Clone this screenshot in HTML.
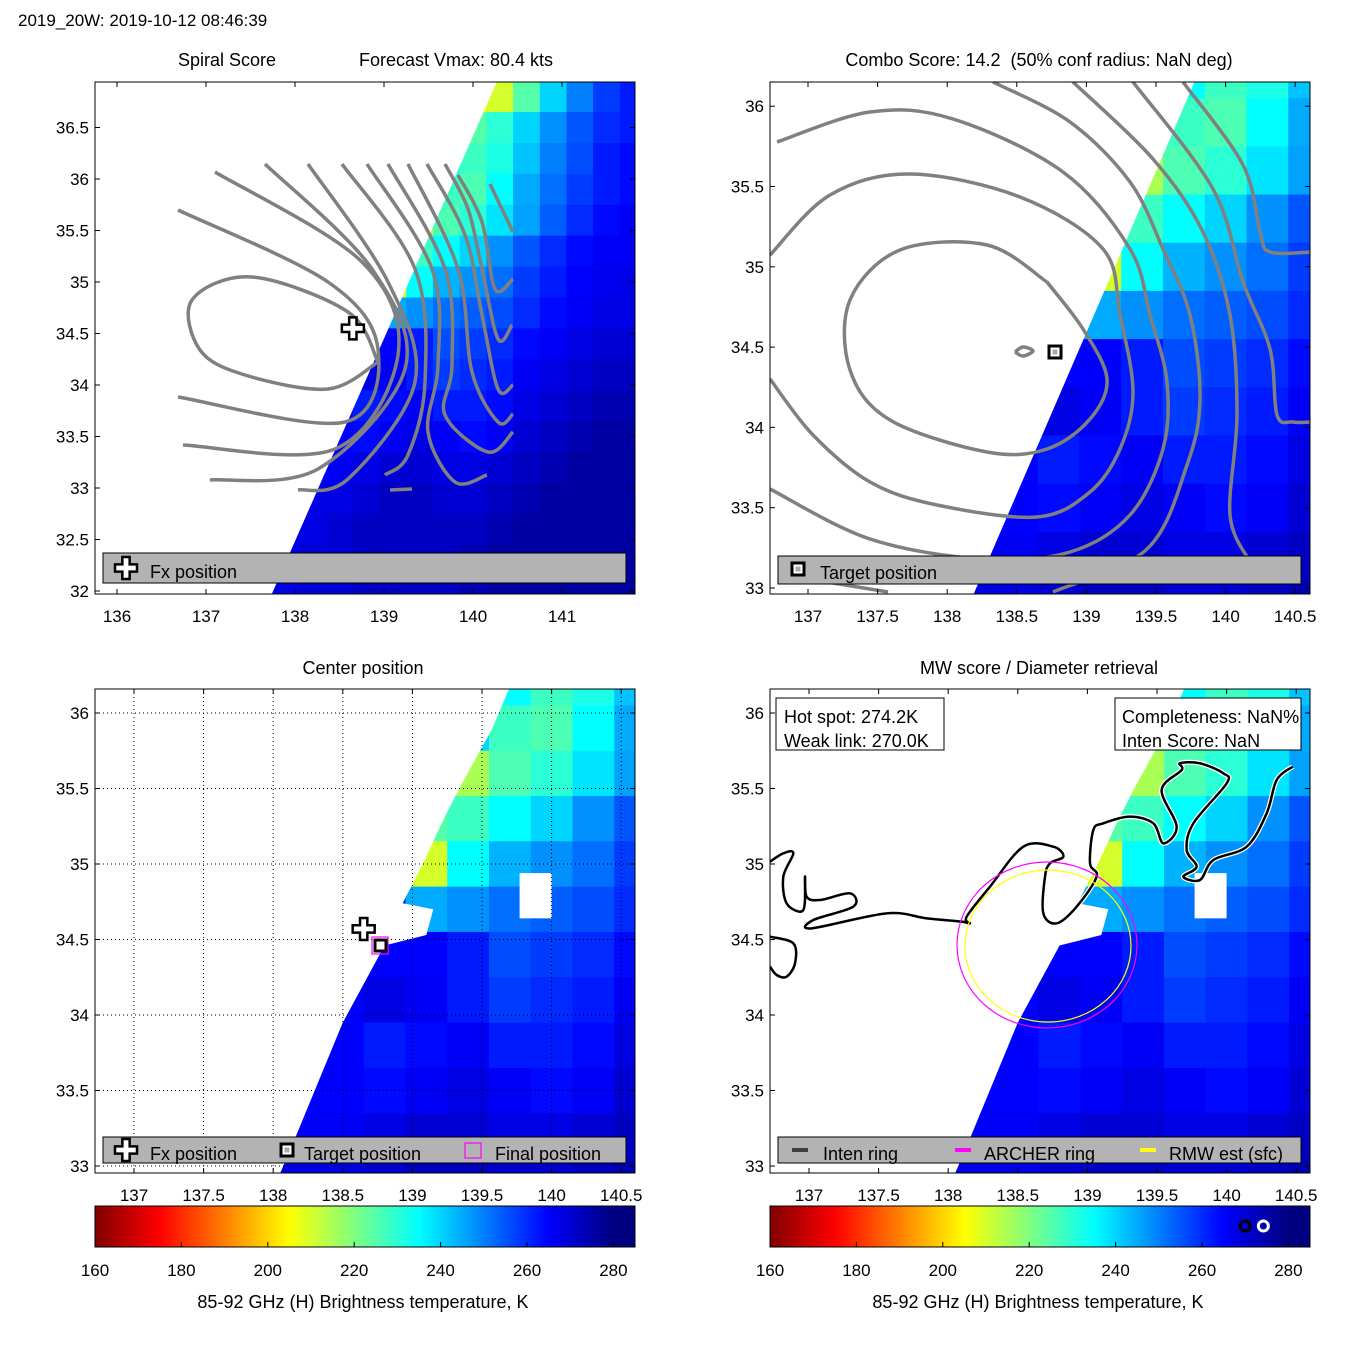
<!DOCTYPE html>
<html><head><meta charset="utf-8"><style>
html,body{margin:0;padding:0;background:#fff;}
svg{display:block;font-family:"Liberation Sans",sans-serif;}
text{fill:#000;}
</style></head><body>
<svg id="fig" width="1350" height="1350" viewBox="0 0 1350 1350" xmlns="http://www.w3.org/2000/svg">
<defs>
<clipPath id="cb1"><rect x="95" y="82" width="540" height="512"/></clipPath>
<clipPath id="cb2"><rect x="770" y="82" width="540" height="512"/></clipPath>
<clipPath id="cb3"><rect x="95" y="689" width="540" height="484"/></clipPath>
<clipPath id="cb4"><rect x="770" y="689" width="540" height="484"/></clipPath>
</defs>
<text x="18" y="26" font-size="17">2019_20W: 2019-10-12 08:46:39</text>
<text x="227" y="66" font-size="18" text-anchor="middle">Spiral Score</text>
<text x="456" y="66" font-size="18" text-anchor="middle">Forecast Vmax: 80.4 kts</text>
<text x="1039" y="66" font-size="18" text-anchor="middle" xml:space="preserve">Combo Score: 14.2  (50% conf radius: NaN deg)</text>
<text x="363" y="674" font-size="18" text-anchor="middle">Center position</text>
<text x="1039" y="674" font-size="18" text-anchor="middle">MW score / Diameter retrieval</text>
<g id="layer"></g>
</svg>
<script>
// ---- data ----
const lonCenters = [137.6,137.9,138.2,138.5,138.8,139.1,139.4,139.7,140.0,140.3,140.6,140.9,141.2,141.5,141.8];
const latCenters = [36.8,36.5,36.2,35.9,35.6,35.3,35.0,34.7,34.4,34.1,33.8,33.5,33.2,32.9,32.6,32.3,32.0];
const tbRow0  = [262,262,262,262,262,262,262,262,205,210,225,240,250,258,262];
const tbRow1  = [262,262,262,262,262,262,262,235,225,230,240,248,255,260,262];
const tbRow2  = [262,262,262,262,262,262,262,235,228,232,242,250,256,262,264];
const tbRow3  = [262,262,262,262,262,262,240,228,226,235,245,252,258,262,264];
const tbRow4  = [262,262,262,262,262,262,215,226,230,238,246,254,260,264,266];
const tbRow5  = [262,262,262,262,262,225,228,235,240,248,255,260,264,266,266];
const tbRow6  = [262,262,262,262,262,210,235,244,248,252,258,262,265,267,268];
const tbRow7  = [262,262,262,262,262,245,248,252,254,256,260,264,266,268,268];
const tbRow8  = [265,265,265,265,265,265,262,256,258,260,264,266,268,270,270];
const tbRow9  = [265,265,265,265,268,266,262,258,260,262,266,268,270,272,272];
const tbRow10 = [265,265,265,265,262,264,266,262,262,264,268,270,272,274,274];
const tbRow11 = [265,265,265,265,264,266,268,266,264,266,270,272,274,276,276];
const tbRow12 = [266,266,266,266,268,270,270,268,268,270,272,274,276,276,276];
const tbRow13 = [268,268,268,268,270,272,272,270,270,272,274,276,276,276,276];
const tbRow14 = [268,268,268,270,272,272,272,272,272,274,276,276,276,276,276];
const tbRow15 = [268,268,270,270,272,272,272,272,274,276,276,276,276,276,276];
const tbRow16 = [268,268,270,270,272,272,272,272,274,276,276,276,276,276,276];
const tbRows = [tbRow0,tbRow1,tbRow2,tbRow3,tbRow4,tbRow5,tbRow6,tbRow7,tbRow8,tbRow9,tbRow10,tbRow11,tbRow12,tbRow13,tbRow14,tbRow15,tbRow16];
const p1LonTicks = [136,137,138,139,140,141];
const p1LatTicks = [32,32.5,33,33.5,34,34.5,35,35.5,36,36.5];
const lonTicks = [137,137.5,138,138.5,139,139.5,140,140.5];
const p2LatTicks = [33,33.5,34,34.5,35,35.5,36];
const cbTicks = [160,180,200,220,240,260,280];
const cbMin = 160, cbMax = 285;
const fxPos = [138.65,34.55];
const targetPos = [138.78,34.46];
const hotSpot = 274.2, weakLink = 270.0;

const NS='http://www.w3.org/2000/svg';
const layer=document.getElementById('layer');
function mk(tag,attrs,parent){const e=document.createElementNS(NS,tag);for(const k in attrs)e.setAttribute(k,attrs[k]);(parent||layer).appendChild(e);return e;}
function jet(v){const s=Math.max(0,Math.min(1,(v-160)/120));const x=1-s;
 const c=t=>Math.round(255*Math.max(0,Math.min(1,1.5-Math.abs(t))));
 return `rgb(${c(4*x-3)},${c(4*x-2)},${c(4*x-1)})`;}

const edge34=[[32.8,137.98],[33.19,138.16],[33.95,138.50],[34.46,138.80],[34.53,139.10],[34.70,139.15],[34.74,138.93],[34.83,138.98],[35.03,139.09],[35.27,139.21],[35.49,139.33],[35.69,139.45],[35.89,139.57],[36.15,139.69],[36.4,139.85]];
const panels=[
 {id:1,box:[95,82,635,594],x:l=>117+(l-136)*89,y:t=>591-(t-32)*103,edge:[[31.5,137.5],[37.5,140.55]],xt:p1LonTicks,yt:p1LatTicks},
 {id:2,box:[770,82,1310,594],x:l=>808+(l-137)*139.2,y:t=>588-(t-33)*160.6,edge:[[32.5,137.96],[36.5,139.95]],xt:lonTicks,yt:p2LatTicks},
 {id:3,box:[95,689,635,1173],x:l=>134+(l-137)*139.2,y:t=>1166-(t-33)*151,edge:edge34,xt:lonTicks,yt:p2LatTicks,grid:true},
 {id:4,box:[770,689,1310,1173],x:l=>809+(l-137)*139.2,y:t=>1166-(t-33)*151,edge:edge34,xt:lonTicks,yt:p2LatTicks}
];

panels.forEach(p=>{
 const [x0,y0,x1,y1]=p.box;
 const cid='sw'+p.id;
 const cp=mk('clipPath',{id:cid},document.querySelector('defs'));
 let pts=p.edge.map(e=>p.x(e[1])+','+p.y(e[0]));
 const last=p.edge[p.edge.length-1], first=p.edge[0];
 pts.push(p.x(143)+','+p.y(last[0]));pts.push(p.x(143)+','+p.y(first[0]));
 mk('polygon',{points:pts.join(' ')},cp);
 const outer=mk('g',{'clip-path':'url(#cb'+p.id+')'});
 
 
 const g=mk('g',{'clip-path':'url(#'+cid+')'},outer);
 
 
 latCenters.forEach((lat,ri)=>{lonCenters.forEach((lon,ci)=>{
  const xa=p.x(lon-0.15),xb=p.x(lon+0.15),ya=p.y(lat+0.15),yb=p.y(lat-0.15);
  const r=mk('rect',{x:xa,y:ya,width:xb-xa+0.6,height:yb-ya+0.6,fill:jet(tbRows[ri][ci])},g);
  
  
 });});
 if(p.id>=3){const h=mk('rect',{x:p.x(139.77),y:p.y(34.94),width:p.x(140.0)-p.x(139.77),height:p.y(34.64)-p.y(34.94),fill:'#fff'},outer);
  
  }
 p.outer=outer;
 if(p.grid){
  p.xt.forEach(t=>{const l=mk('line',{x1:p.x(t),x2:p.x(t),y1:y0,y2:y1,stroke:'#000','stroke-dasharray':'1,3','stroke-width':1},outer);
   
   });
  p.yt.forEach(t=>{const l=mk('line',{x1:x0,x2:x1,y1:p.y(t),y2:p.y(t),stroke:'#000','stroke-dasharray':'1,3','stroke-width':1},outer);
   
   });
 }
});

function smooth(pts){let d='M'+pts[0][0]+','+pts[0][1];
 for(let i=0;i<pts.length-1;i++){const p0=pts[i-1]||pts[i],p1=pts[i],p2=pts[i+1],p3=pts[i+2]||p2;
  d+=` C${p1[0]+(p2[0]-p0[0])/6},${p1[1]+(p2[1]-p0[1])/6} ${p2[0]-(p3[0]-p1[0])/6},${p2[1]-(p3[1]-p1[1])/6} ${p2[0]},${p2[1]}`;}
 return d;}
const c1=[
 [[378,362],[348,312],[252,277],[192,300],[200,350],[245,375],[328,389],[378,362]],
 [[178,210],[328,282],[378,349],[345,422],[178,397]],
 [[215,172],[362,262],[398,355],[335,449],[183,445]],
 [[265,164],[372,269],[405,369],[318,469],[210,480]],
 [[308,164],[388,282],[415,382],[348,479],[298,490]],
 [[342,164],[415,269],[425,382],[408,455],[385,475]],
 [[367,164],[432,269],[438,365],[428,432],[455,482],[487,475]],
 [[388,164],[445,269],[452,365],[445,415],[488,452],[513,432]],
 [[408,164],[458,269],[472,372],[498,422],[513,414]],
 [[427,164],[465,235],[482,315],[498,389],[513,385]],
 [[445,164],[468,209],[482,269],[498,339],[512,325]],
 [[458,175],[482,222],[495,289],[513,279]],
 [[490,184],[513,232]],
 [[390,490],[412,489]]];
c1.forEach(c=>{const e=mk('path',{d:smooth(c),fill:'none',stroke:'#808080','stroke-width':3.5},panels[0].outer);
 
 });
const c2=[
 [[1047,282],[987,245],[900,250],[850,300],[850,370],[890,420],[987,452],[1047,449],[1090,419],[1107,379],[1083,329],[1047,282]],
 [[770,255],[830,195],[910,174],[1020,197],[1103,249],[1120,315],[1133,392],[1120,449],[1090,492],[1037,517],[937,505],[870,482],[813,435],[770,379]],
 [[777,142],[870,112],[953,119],[1063,172],[1130,249],[1150,315],[1167,382],[1163,449],[1130,515],[1070,552],[983,559],[870,539],[770,489]],
 [[993,82],[1070,122],[1130,182],[1163,249],[1190,315],[1200,399],[1187,465],[1147,549],[1053,592]],
 [[1073,82],[1153,159],[1203,232],[1230,315],[1237,415],[1230,515],[1250,562]],
 [[1133,82],[1213,189],[1243,282],[1270,349],[1277,415],[1293,422],[1312,422]],
 [[1183,82],[1243,165],[1260,232],[1270,252],[1312,252]],
 [[827,582],[888,592]],
 [[1015,352],[1023,347],[1033,351],[1023,356],[1015,352]]];
c2.forEach(c=>{const e=mk('path',{d:smooth(c),fill:'none',stroke:'#808080','stroke-width':3.5},panels[1].outer);
 
 });
const zx=v=>770+v/3, zy=v=>690+v/3;
const coastA=[[0,515],[40,490],[70,490],[40,560],[50,640],[100,660],[105,560],[110,620],[150,630],[240,610],[250,650],[130,690],[125,715],[350,670],[470,685],[575,695],[600,700],[590,680],[660,590],[760,470],[850,470],[880,500],[840,520],[825,560],[820,670],[860,700],[920,650],[980,560],[960,520],[970,420],[1000,400],[1080,380],[1150,400],[1180,460],[1220,410],[1175,300],[1235,240],[1230,220],[1290,220],[1360,250],[1370,280],[1270,400],[1250,480],[1280,530],[1240,560],[1290,570],[1330,510],[1430,470],[1490,370],[1520,270],[1568,230]];
const coastB=[[0,740],[70,760],[75,820],[50,860],[20,855],[0,830]];
[coastA,coastB].forEach(c=>{const e=mk('path',{d:smooth(c.map(q=>[zx(q[0]),zy(q[1])])),fill:'none',stroke:'#fff','stroke-width':5},panels[3].outer);
 
 
 const f=mk('path',{d:smooth(c.map(q=>[zx(q[0]),zy(q[1])])),fill:'none',stroke:'#000','stroke-width':2.5},panels[3].outer);
 
 });
const ar=mk('ellipse',{cx:1047,cy:945,rx:90,ry:83,fill:'none',stroke:'#ff00ff','stroke-width':1.2},panels[3].outer);


const rm=mk('ellipse',{cx:1048,cy:946,rx:83,ry:76,fill:'none',stroke:'#ffff00','stroke-width':1.2},panels[3].outer);



function cross(cx,cy,s,parent){const d=`M${cx-s/3},${cy-s} h${2*s/3} v${2*s/3} h${2*s/3} v${2*s/3} h${-2*s/3} v${2*s/3} h${-2*s/3} v${-2*s/3} h${-2*s/3} v${-2*s/3} h${2*s/3} z`;
 const e=mk('path',{d:d,fill:'#fff',stroke:'#000','stroke-width':2.5},parent);
 
 }
function target(cx,cy,parent){const e=mk('rect',{x:cx-6,y:cy-6,width:12,height:12,fill:'#fff',stroke:'#000','stroke-width':3},parent);
 
 
 const i=mk('rect',{x:cx-2.5,y:cy-2.5,width:5,height:5,fill:'#aaa'},parent);
 
 }
cross(panels[0].x(fxPos[0]),panels[0].y(fxPos[1]),11,panels[0].outer);
target(1055,352,panels[1].outer);
cross(panels[2].x(fxPos[0]),panels[2].y(fxPos[1])-3,11,panels[2].outer);
const fp=mk('rect',{x:372,y:937,width:16,height:17,fill:'none',stroke:'#ff00ff','stroke-width':1.2});


mk('rect',{x:375,y:940,width:11,height:11,fill:'#fff',stroke:'#000','stroke-width':3});

panels.forEach(p=>{const [x0,y0,x1,y1]=p.box;
 const f=mk('rect',{x:x0,y:y0,width:x1-x0,height:y1-y0,fill:'none',stroke:'#000','stroke-width':1});
 
 
 p.xt.forEach(t=>{const X=p.x(t);
  mk('line',{x1:X,x2:X,y1:y1,y2:y1-5,stroke:'#000'});mk('line',{x1:X,x2:X,y1:y0,y2:y0+5,stroke:'#000'});
  const tx=mk('text',{x:X,y:y1+28,'font-size':17,'text-anchor':'middle'});tx.textContent=t;
  
  });
 p.yt.forEach(t=>{const Y=p.y(t);
  mk('line',{x1:x0,x2:x0+5,y1:Y,y2:Y,stroke:'#000'});mk('line',{x1:x1,x2:x1-5,y1:Y,y2:Y,stroke:'#000'});
  const tx=mk('text',{x:x0-6,y:Y+6,'font-size':17,'text-anchor':'end'});tx.textContent=t;
  
  });
});

function legendBox(x,y,w,h,name){const r=mk('rect',{x:x,y:y,width:w,height:h,fill:'#b3b3b3',stroke:'#000','stroke-width':1});
 
 }
function label(x,y,t,name,size){const e=mk('text',{x:x,y:y,'font-size':size||18});e.textContent=t;
 
 return e;}
legendBox(103,553,523,30,'legend-panel-1');cross(126,568,11);label(150,578,'Fx position','legend-entry-fx');
legendBox(778,556,523,28,'legend-panel-2');target(798,569);label(820,579,'Target position','legend-entry-target');
legendBox(103,1137,523,26,'legend-panel-3');cross(126,1150,11);label(150,1160,'Fx position','legend-entry-fx');
target(287,1150);label(304,1160,'Target position','legend-entry-target');
const lf=mk('rect',{x:465,y:1143,width:16,height:15,fill:'none',stroke:'#ff00ff','stroke-width':1.2});


label(495,1160,'Final position','legend-entry-final');
legendBox(778,1137,523,26,'legend-panel-4');
[[792,'#404040','Inten ring',823],[955,'#ff00ff','ARCHER ring',984],[1140,'#ffff00','RMW est (sfc)',1169]].forEach(e=>{
 const s=mk('line',{x1:e[0],x2:e[0]+16,y1:1150,y2:1150,stroke:e[1],'stroke-width':4});
 
 
 label(e[3],1160,e[2],'legend-entry');});
const ib1=mk('rect',{x:776,y:698,width:168,height:52,fill:'#fff',stroke:'#000'});


label(784,723,'Hot spot: '+hotSpot.toFixed(1)+'K','hot-spot-text');
label(784,747,'Weak link: '+weakLink.toFixed(1)+'K','weak-link-text');
const ib2=mk('rect',{x:1115,y:698,width:186,height:52,fill:'#fff',stroke:'#000'});


label(1122,723,'Completeness: NaN%','completeness-text');
label(1122,747,'Inten Score: NaN','inten-score-text');

[[95,'1'],[770,'2']].forEach(c=>{const x0=c[0],w=540,y0=1206,h=41;
 const cb=a=>x0+(a-cbMin)/(cbMax-cbMin)*w;
 for(let v=cbMin;v<cbMax;v+=0.5){
  const r=mk('rect',{x:cb(v),y:y0,width:cb(v+0.5)-cb(v)+0.5,height:h,fill:jet(v+0.25)});
  
  }
 const f=mk('rect',{x:x0,y:y0,width:w,height:h,fill:'none',stroke:'#000'});
 
 
 cbTicks.forEach(t=>{mk('line',{x1:cb(t),x2:cb(t),y1:y0+h,y2:y0+h-5,stroke:'#000'});
  const tx=mk('text',{x:cb(t),y:1276,'font-size':17,'text-anchor':'middle'});tx.textContent=t;
  
  });
 const lb=mk('text',{x:x0+268,y:1308,'font-size':18,'text-anchor':'middle'});lb.textContent='85-92 GHz (H) Brightness temperature, K';
 
 
 if(c[1]==='2'){
  const m1=mk('circle',{cx:cb(weakLink),cy:1226,r:5,fill:'none',stroke:'#000','stroke-width':3});
  
  
  const m2=mk('circle',{cx:cb(hotSpot),cy:1226,r:5,fill:'none',stroke:'#fff','stroke-width':3});
  
  }
});
</script>
</body></html>
